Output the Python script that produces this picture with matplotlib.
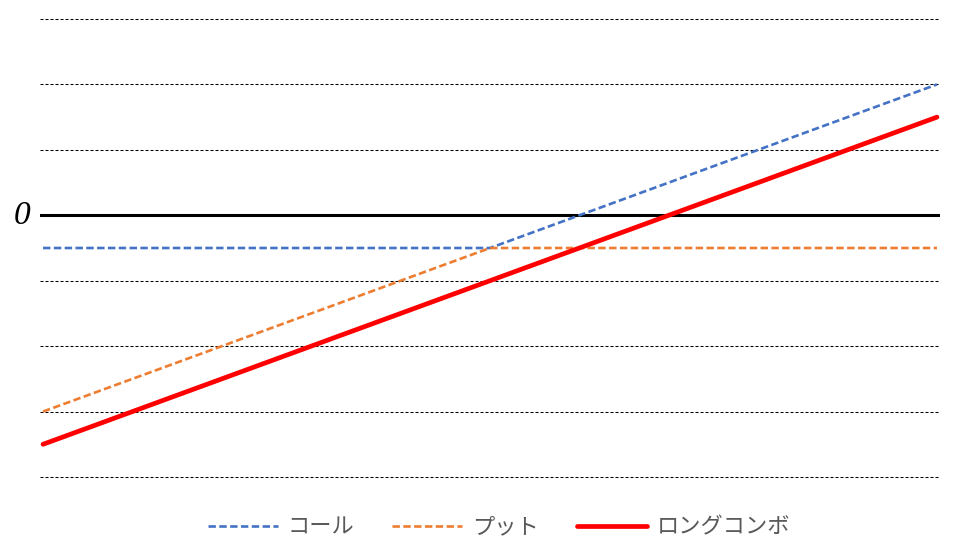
import matplotlib
matplotlib.use("Agg")
import matplotlib.pyplot as plt

# 原資産価格とそれぞれの損益
price = [50, 60, 70, 80, 90, 100, 110, 120, 130, 140, 150]
call = [-10, -10, -10, -10, -10, -10, 0, 10, 20, 30, 40]
put = [-60, -50, -40, -30, -20, -10, -10, -10, -10, -10, -10]
combo = [-70, -60, -50, -40, -30, -20, -10, 0, 10, 20, 30]
grid_levels = [-80, -60, -40, -20, 20, 40, 60]

plt.rcParams["font.family"] = ["Noto Sans CJK JP", "DejaVu Sans"]

fig = plt.figure(figsize=(9.62, 5.44), dpi=100)
fig.patch.set_facecolor("white")
ax = fig.add_axes([40 / 962, 1 - 477 / 544, 900 / 962, 458 / 544])

for lv in grid_levels:
    ax.axhline(lv, color="black", lw=0.75, linestyle=(0, (2.9, 1.9)), zorder=1, clip_on=False)
ax.axhline(0, color="black", lw=2.2, zorder=2)

ax.plot(price, call, color="#4472C4", lw=1.9, linestyle=(0, (2.8, 1.3)), label="コール", zorder=3)
ax.plot(price, put, color="#ED7D31", lw=1.9, linestyle=(0, (2.8, 1.3)), label="プット", zorder=4)
ax.plot(price, combo, color="#FF0000", lw=3.4, solid_capstyle="round", label="ロングコンボ", zorder=5)

ax.set_xlim(49.66, 150.34)
ax.set_ylim(-80, 60)
ax.set_xticks([])
ax.set_yticks([])
for spine in ax.spines.values():
    spine.set_visible(False)

ax.text(-0.02, 0, "0", transform=ax.get_yaxis_transform(), ha="center", va="center",
        fontsize=24, style="italic", family="Liberation Serif", color="black")

fig.legend(loc="center", bbox_to_anchor=(499 / 962, 1 - 527 / 544), ncol=3, frameon=False,
           fontsize=16, handlelength=3.15, handletextpad=0.45, columnspacing=1.7,
           labelcolor="#595959")

fig.savefig("out.png", dpi=100, facecolor=fig.get_facecolor())
plt.close(fig)
